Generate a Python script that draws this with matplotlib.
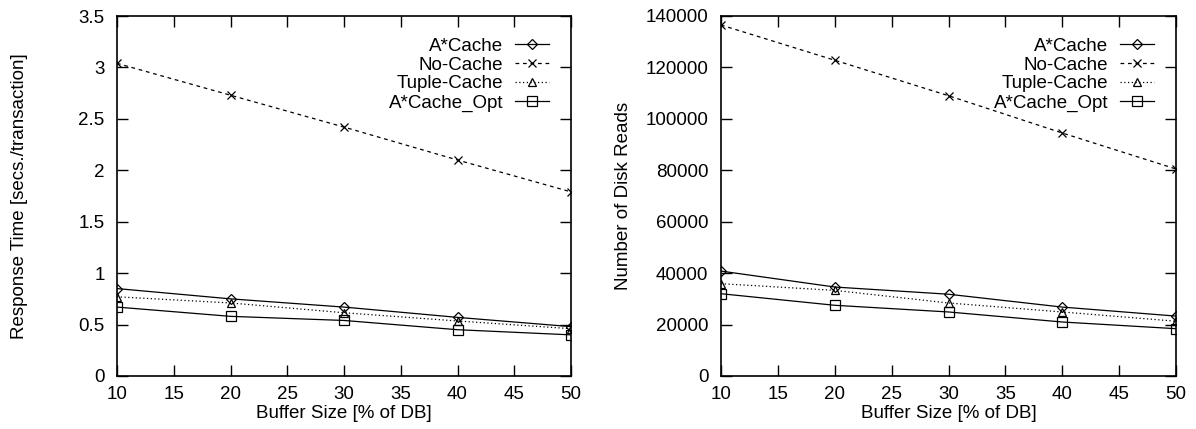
import matplotlib
matplotlib.use("Agg")
import matplotlib.pyplot as plt

plt.rcParams['font.family'] = ['Liberation Sans', 'DejaVu Sans']
FS = 13.5
plt.rcParams['font.size'] = FS

buffer_sizes = [10, 20, 30, 40, 50]

series_names = ["A*Cache", "No-Cache", "Tuple-Cache", "A*Cache_Opt"]

resp_astar = [0.85, 0.75, 0.67, 0.57, 0.48]
resp_nocache = [3.04, 2.73, 2.42, 2.10, 1.79]
resp_tuple = [0.77, 0.71, 0.615, 0.535, 0.46]
resp_opt = [0.67, 0.58, 0.54, 0.45, 0.40]

reads_astar = [40800, 34600, 31800, 26800, 23300]
reads_nocache = [136500, 122800, 109000, 94500, 80500]
reads_tuple = [35900, 33300, 28400, 24900, 21300]
reads_opt = [32000, 27500, 24900, 21000, 18400]

x_ticks = [10, 15, 20, 25, 30, 35, 40, 45, 50]
resp_ticks = [0, 0.5, 1, 1.5, 2, 2.5, 3, 3.5]
resp_ticklabels = ["0", "0.5", "1", "1.5", "2", "2.5", "3", "3.5"]
reads_ticks = [0, 20000, 40000, 60000, 80000, 100000, 120000, 140000]

styles = [
    dict(linestyle='-', marker='D', markersize=5, markerfacecolor='none'),
    dict(linestyle=(0, (3, 3)), marker='x', markersize=6),
    dict(linestyle=(0, (1, 2)), marker='^', markersize=6, markerfacecolor='none'),
    dict(linestyle='-', marker='s', markersize=6.5, markerfacecolor='none'),
]

fig = plt.figure(figsize=(11.96, 4.29), dpi=100)
ax1 = fig.add_axes([117/1196, 53/429, 454/1196, 360/429])
ax2 = fig.add_axes([721/1196, 53/429, 455/1196, 360/429])

def draw(ax, data, yticks, ylim, ylabel, yticklabels=None):
    for name, vals, st in zip(series_names, data, styles):
        ax.plot(buffer_sizes, vals, color='black', linewidth=0.9,
                markeredgewidth=0.9, label=name, **st)
    ax.set_xlim(10, 50)
    ax.set_ylim(*ylim)
    ax.set_xticks(x_ticks)
    ax.set_yticks(yticks)
    if yticklabels is not None:
        ax.set_yticklabels(yticklabels)
    ax.tick_params(direction='in', length=8, width=1, top=True, right=True,
                   labelsize=FS)
    ax.tick_params(axis='y', pad=9)
    ax.tick_params(axis='x', pad=7)
    for sp in ax.spines.values():
        sp.set_linewidth(1.2)
    ax.set_xlabel("Buffer Size [% of DB]", fontsize=FS, labelpad=2)
    ax.set_ylabel(ylabel, fontsize=FS)
    ax.yaxis.set_label_coords(-0.196, 0.5)
    ax.legend(loc='upper right', frameon=False, markerfirst=False,
              handlelength=1.85, handletextpad=0.6, labelspacing=0.09,
              fontsize=FS, borderaxespad=0.76)

draw(ax1, [resp_astar, resp_nocache, resp_tuple, resp_opt], resp_ticks, (0, 3.5),
     "Response Time [secs./transaction]", resp_ticklabels)
draw(ax2, [reads_astar, reads_nocache, reads_tuple, reads_opt], reads_ticks, (0, 140000),
     "Number of Disk Reads")

fig.savefig("out.png", dpi=100)
